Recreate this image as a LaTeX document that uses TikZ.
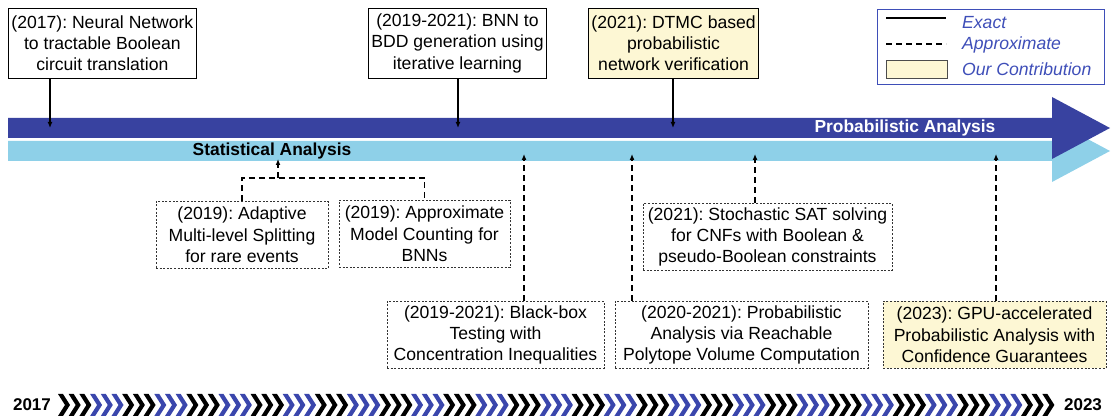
\documentclass[tikz,border=0pt]{standalone}
\usepackage{fontspec}
\setmainfont{Liberation Sans}
\usetikzlibrary{arrows.meta}
\frenchspacing

\definecolor{probblue}{RGB}{56,66,160}
\definecolor{statblue}{RGB}{142,208,232}
\definecolor{contrib}{RGB}{253,247,212}
\definecolor{legendblue}{RGB}{62,78,184}
\definecolor{chevblue}{RGB}{58,70,172}

\newcommand\boxfont{\fontsize{17.6}{21.3}\selectfont}
\newcommand\labelfont{\fontsize{17.4}{21}\selectfont\bfseries}

\tikzset{
  exactbox/.style={draw=black, line width=0.8pt, fill=white, align=center,
    inner xsep=3pt, inner ysep=3pt, minimum height=70, font=\boxfont},
  approxbox/.style={draw=black!80, line width=0.7pt, dash pattern=on 2pt off 1.6pt,
    fill=white, align=center, inner xsep=3pt, inner ysep=2pt, minimum height=67,
    font=\boxfont},
  ours/.style={fill=contrib},
  exactarrow/.style={line width=1.3pt, -{Latex[length=6pt,width=5pt]}},
  approxline/.style={line width=1.7pt, dash pattern=on 6pt off 4pt},
  approxarrow/.style={approxline, -{Latex[length=6pt,width=5pt]}},
  bandlabel/.style={font=\labelfont, inner sep=0pt},
  legendtext/.style={font=\boxfont\itshape, text=legendblue, inner sep=0pt, anchor=base west},
  yearlabel/.style={font=\fontsize{17}{20}\selectfont\bfseries, inner sep=0pt}
}

\begin{document}
\begin{tikzpicture}[x=1pt,y=-1pt]
\useasboundingbox (0,0) rectangle (1112,419);

% analysis bands
\fill[statblue] (8,141) -- (1052,141) -- (1052,120) -- (1110,151) -- (1052,182)
  -- (1052,161) -- (8,161) -- cycle;
\fill[probblue] (8,118) -- (1052,118) -- (1052,97) -- (1110,128) -- (1052,159)
  -- (1052,138) -- (8,138) -- cycle;
\node[bandlabel] (stat) at (272,151) {Statistical Analysis};
\node[bandlabel, text=white] (prob) at (905,128) {Probabilistic Analysis};

% exact methods (above the bands)
\node[exactbox, minimum width=184, anchor=north west] (b1) at (8,8)
  {(2017): Neural Network\\to tractable Boolean\\circuit translation};
\node[exactbox, minimum width=178, anchor=north west] (b2) at (368,8)
  {(2019-2021): BNN to\\BDD generation using\\iterative learning};
\node[exactbox, ours, minimum width=167, anchor=north west] (b3) at (588,8)
  {(2021): DTMC based\\probabilistic\\network verification};

\coordinate (t1) at (50,128);
\coordinate (t2) at (458,128);
\coordinate (t3) at (673,128);
\draw[exactarrow] (b1.south -| t1) -- (t1);
\draw[exactarrow] (b2.south -| t2) -- (t2);
\draw[exactarrow] (b3.south -| t3) -- (t3);

% approximate methods (below the bands)
\node[approxbox, minimum width=172] (bA) at (242,235)
  {(2019): Adaptive\\Multi-level Splitting\\for rare events};
\node[approxbox, minimum width=171] (bB) at (424.5,234)
  {(2019): Approximate\\Model Counting for\\BNNs};
\node[approxbox, minimum width=249] (bE) at (767.5,237)
  {(2021): Stochastic SAT solving\\for CNFs with Boolean \&\\pseudo-Boolean constraints};
\node[approxbox, minimum width=217] (bC) at (495.5,335)
  {(2019-2021): Black-box\\Testing with\\Concentration Inequalities};
\node[approxbox, minimum width=253] (bD) at (741.5,335)
  {(2020-2021): Probabilistic\\Analysis via Reachable\\Polytope Volume Computation};
\node[approxbox, ours, minimum width=223] (bF) at (994.5,335)
  {(2023): GPU-accelerated\\Probabilistic Analysis with\\Confidence Guarantees};

\coordinate (jAB) at (278,178);
\coordinate (tAB) at (278,159);
\coordinate (tC) at (524,154);
\coordinate (tD) at (632,154);
\coordinate (tE) at (755,154);
\coordinate (tF) at (996,154);
\draw[approxline] (bA.north) |- (jAB) -| (bB.north);
\draw[approxarrow] (jAB) -- (tAB);
\draw[approxarrow] (bC.north -| tC) -- (tC);
\draw[approxarrow] (bD.north -| tD) -- (tD);
\draw[approxarrow] (bE.north -| tE) -- (tE);
\draw[approxarrow] (bF.north -| tF) -- (tF);

% legend
\node[draw=legendblue, line width=0.8pt, minimum width=227, minimum height=75,
  anchor=north west, inner sep=0pt] (legend) at (877,9) {};
\draw[line width=1.5pt] (886,18) -- (946,18);
\draw[line width=1.5pt, dash pattern=on 6pt off 4pt] (886,44) -- (946,44);
\draw[fill=contrib, draw=black!70, line width=0.7pt] (886,60) rectangle (947,78);
\node[legendtext] (lexact) at (962,29) {Exact};
\node[legendtext] (lapprox) at (962,50) {Approximate};
\node[legendtext] (lours) at (962,76) {Our Contribution};

% time line
\node[yearlabel] (ystart) at (32,405) {2017};
\node[yearlabel] (yend) at (1083,405) {2023};
\foreach \k in {0,...,92}{
  \pgfmathtruncatemacro\chevgrp{mod(floor(\k/3),2)}
  \ifnum\chevgrp=0
    \fill[black] ({58+\k*10.7},394) -- ++(5,0) -- ++(7,11) -- ++(-7,11)
      -- ++(-5,0) -- ++(7,-11) -- cycle;
  \else
    \fill[chevblue] ({58+\k*10.7},394) -- ++(5,0) -- ++(7,11) -- ++(-7,11)
      -- ++(-5,0) -- ++(7,-11) -- cycle;
  \fi
}
\end{tikzpicture}
\end{document}
